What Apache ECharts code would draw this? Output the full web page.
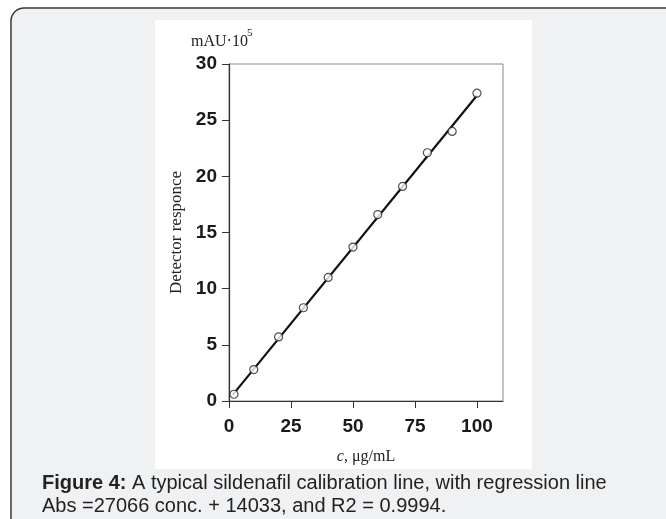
<!DOCTYPE html>
<html>
<head>
<meta charset="utf-8">
<script src="https://cdn.jsdelivr.net/npm/echarts@6/dist/echarts.min.js"></script>
<style>
html,body{margin:0;padding:0;background:#ffffff;}
#c{width:666px;height:519px;}
</style>
</head>
<body>
<div id="c"></div>
<script>
var concentrations = [2, 10, 20, 30, 40, 50, 60, 70, 80, 90, 100];
var responses = [0.6, 2.8, 5.7, 8.3, 11.0, 13.7, 16.6, 19.1, 22.1, 24.0, 27.4];
var regressionX = [1.5, 100];
var regressionY = [0.55, 27.2];
var xTicks = [0, 25, 50, 75, 100];
var yTicks = [0, 5, 10, 15, 20, 25, 30];

var points = concentrations.map(function (c, i) { return [c, responses[i]]; });
var regLine = regressionX.map(function (c, i) { return [c, regressionY[i]]; });

var chart = echarts.init(document.getElementById('c'), null, {renderer: 'canvas'});
chart.setOption({
  backgroundColor: '#ffffff',
  animation: false,
  graphic: [
    {type: 'rect', z: -10, silent: true,
     shape: {x: 11, y: 8, width: 700, height: 560, r: 13},
     style: {fill: '#f0f1f3', stroke: '#3a3a3a', lineWidth: 1.5}},
    {type: 'rect', z: -9, silent: true,
     shape: {x: 155, y: 20, width: 377, height: 449},
     style: {fill: '#ffffff'}},
    {type: 'text', left: 191, top: 34, z: 5,
     style: {text: 'mAU·10', font: '16px "Liberation Serif", "DejaVu Serif", serif', fill: '#222'}},
    {type: 'text', left: 247, top: 28, z: 5,
     style: {text: '5', font: '11px "Liberation Serif", serif', fill: '#222'}},
    {type: 'text', left: 42, top: 472, z: 5,
     style: {
       text: '{b|Figure 4:} A typical sildenafil calibration line, with regression line\nAbs =27066 conc. + 14033, and R2 = 0.9994.',
       font: '20px "Liberation Sans", Arial, sans-serif',
       fill: '#222',
       lineHeight: 23,
       rich: {b: {fontWeight: 'bold', fontSize: 20, fontFamily: '"Liberation Sans", Arial, sans-serif', fill: '#222'}}
     }}
  ],
  grid: {left: 229, top: 64, right: 163, bottom: 118, show: true, borderColor: '#8a8a8a', borderWidth: 1, backgroundColor: 'transparent'},
  xAxis: {
    type: 'value', min: 0, max: 110.5, interval: 25,
    name: '{i|c}, μg/mL', nameLocation: 'middle', nameGap: 48,
    nameTextStyle: {fontFamily: '"Liberation Serif", serif', fontSize: 16, color: '#222',
      rich: {i: {fontStyle: 'italic', fontFamily: '"Liberation Serif", serif', fontSize: 16, color: '#222'}}},
    splitLine: {show: false},
    axisLine: {show: true, onZero: false, lineStyle: {color: '#333', width: 1.2}},
    axisTick: {show: true, inside: false, length: 7, customValues: xTicks, lineStyle: {color: '#333'}},
    axisLabel: {customValues: xTicks, margin: 16, fontFamily: '"Liberation Sans", Arial, sans-serif', fontSize: 19, fontWeight: 'bold', color: '#1a1a1a'}
  },
  yAxis: {
    type: 'value', min: 0, max: 30, interval: 5,
    name: 'Detector responce', nameLocation: 'middle', nameGap: 44, nameRotate: 90,
    nameTextStyle: {fontFamily: '"Liberation Serif", serif', fontSize: 17, color: '#222'},
    splitLine: {show: false},
    axisLine: {show: true, onZero: false, lineStyle: {color: '#333', width: 1.2}},
    axisTick: {show: true, inside: false, length: 7, customValues: yTicks, lineStyle: {color: '#333'}},
    axisLabel: {customValues: yTicks, margin: 12, fontFamily: '"Liberation Sans", Arial, sans-serif', fontSize: 19, fontWeight: 'bold', color: '#1a1a1a'}
  },
  series: [
    {type: 'line', data: regLine, symbol: 'none', lineStyle: {color: '#111', width: 2.2}, z: 2},
    {type: 'scatter', data: points, symbol: 'circle', symbolSize: 8,
     itemStyle: {color: '#ffffff', borderColor: '#222', borderWidth: 1.2}, z: 3}
  ]
});
</script>
</body>
</html>
